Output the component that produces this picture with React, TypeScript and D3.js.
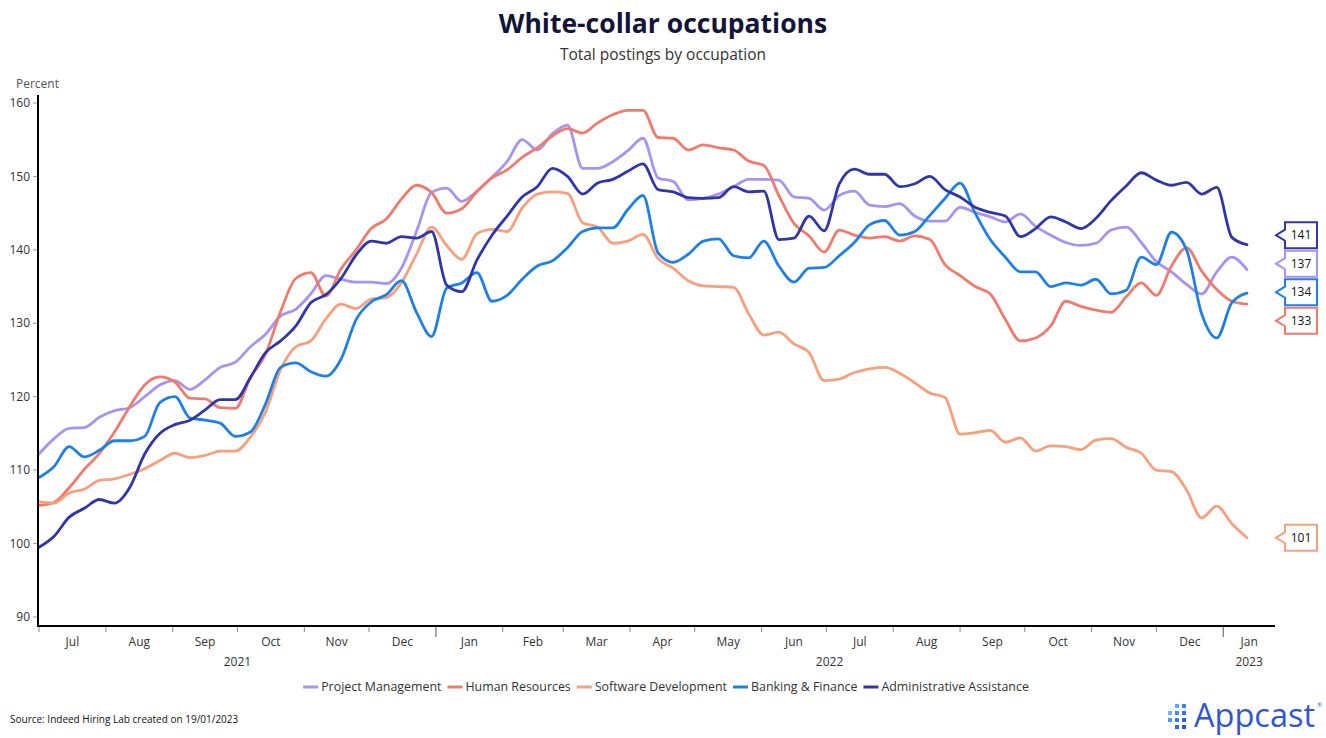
import React, { useEffect, useMemo } from 'react';
import * as d3 from 'd3';

const WIDTH = 1326;
const HEIGHT = 738;
const FONT = '"Segoe UI", "Open Sans", "Noto Sans", sans-serif';

// weekly observations, first one on 1 Jul 2021
const START = new Date(2021, 6, 1);
const AXIS_END = new Date(2023, 0, 25);

const SERIES_NAMES = [
  'Project Management',
  'Human Resources',
  'Software Development',
  'Banking & Finance',
  'Administrative Assistance',
];
const SERIES_COLORS = ['#a793f0', '#f07b6d', '#f7a07e', '#1e80e6', '#2f36a9'];

const PROJECT_MANAGEMENT = [
  112.2, 114.3, 115.7, 115.8, 117.2, 118.1, 118.5, 120.0, 121.6, 122.2,
  121.0, 122.3, 124.0, 124.7, 126.8, 128.5, 131.0, 131.9, 134.0, 136.5,
  136.0, 135.6, 135.6, 135.4, 137.5, 142.5, 147.8, 148.4, 146.6, 148.0,
  149.9, 152.0, 155.0, 153.6, 155.8, 157.0, 151.1, 151.1, 152.0, 153.5,
  155.2, 149.8, 149.3, 146.8, 147.0, 147.6, 148.6, 149.6, 149.6, 149.5,
  147.2, 147.0, 145.4, 147.4, 148.0, 146.1, 145.9, 146.3, 144.6, 143.9,
  143.9, 145.8, 145.1, 144.5, 143.8, 144.9, 143.2, 142.0, 141.0, 140.6,
  140.9, 142.7, 143.1, 141.0, 138.4, 137.0, 135.3, 134.0, 137.0, 139.0,
  137.3,
];
const HUMAN_RESOURCES = [
  105.2, 105.6, 107.6, 110.1, 112.3, 115.2, 118.6, 121.6, 122.7, 122.0,
  119.8, 119.7, 118.5, 118.4, 122.6, 125.8, 131.6, 136.1, 136.9, 133.7,
  137.4, 140.0, 142.9, 144.2, 146.9, 148.8, 147.8, 145.0, 145.6, 147.9,
  149.8, 150.9, 152.6, 153.9, 155.5, 156.5, 155.9, 157.3, 158.4, 159.0,
  159.0, 155.3, 155.2, 153.6, 154.3, 153.9, 153.6, 152.1, 151.5, 147.4,
  143.6, 141.9, 139.7, 142.7, 142.0, 141.6, 141.8, 141.2, 141.9, 141.4,
  138.0, 136.5, 135.0, 134.0, 130.5, 127.6, 128.0, 129.6, 133.0, 132.3,
  131.8, 131.5, 133.6, 135.5, 133.8, 137.8, 140.3, 137.1, 134.6, 133.0,
  132.6,
];
const SOFTWARE_DEVELOPMENT = [
  105.7, 105.5, 106.9, 107.4, 108.6, 108.8, 109.4, 110.2, 111.3, 112.3,
  111.7, 112.0, 112.6, 112.6, 114.5, 117.9, 123.7, 126.8, 127.6, 130.6,
  132.6, 132.0, 133.3, 133.5, 135.5, 139.4, 143.1, 140.6, 138.7, 142.2,
  142.8, 142.5, 145.7, 147.6, 147.9, 147.7, 143.7, 143.1, 140.9, 141.2,
  142.1, 138.8, 137.5, 135.8, 135.1, 135.0, 134.9, 131.3, 128.4, 128.8,
  127.2, 126.0, 122.2, 122.4, 123.3, 123.8, 124.0, 123.2, 121.9, 120.5,
  119.9, 114.9, 115.1, 115.4, 113.8, 114.4, 112.6, 113.3, 113.2, 112.8,
  114.1, 114.3, 113.1, 112.3, 110.0, 109.8, 107.3, 103.5, 105.1, 102.7,
  100.8,
];
const BANKING_FINANCE = [
  109.0, 110.5, 113.2, 111.8, 112.7, 114.0, 114.0, 114.6, 119.2, 120.0,
  117.1, 116.8, 116.4, 114.6, 115.2, 119.0, 124.0, 124.6, 123.4, 122.8,
  125.1, 130.5, 132.9, 133.9, 135.8, 131.5, 128.2, 134.8, 135.5, 136.9,
  133.0, 133.8, 136.0, 137.8, 138.5, 140.3, 142.5, 143.0, 143.0, 145.5,
  147.4, 139.6, 138.3, 139.4, 141.2, 141.5, 139.2, 138.9, 141.2, 137.8,
  135.6, 137.5, 137.6, 139.2, 141.0, 143.4, 144.0, 142.0, 142.5, 144.7,
  147.0, 149.1, 145.0, 141.4, 139.0, 137.0, 137.0, 135.0, 135.5, 135.2,
  136.0, 134.0, 134.5, 139.0, 138.0, 142.4, 140.0, 131.3, 128.0, 132.8,
  134.1,
];
const ADMINISTRATIVE_ASSISTANCE = [
  99.5, 101.0, 103.6, 104.8, 106.0, 105.5, 107.6, 112.2, 115.0, 116.2,
  116.8, 118.2, 119.6, 119.6, 122.6, 126.0, 127.6, 129.6, 132.8, 133.9,
  136.1, 139.3, 141.2, 140.9, 141.8, 141.6, 142.5, 135.2, 134.3, 138.6,
  142.0, 144.6, 147.2, 148.6, 151.1, 150.0, 147.6, 149.1, 149.6, 150.7,
  151.7, 148.2, 147.9, 147.1, 147.0, 147.1, 148.6, 147.9, 148.0, 141.4,
  141.6, 144.6, 142.6, 149.0, 151.0, 150.3, 150.3, 148.6, 149.0, 150.0,
  148.2, 147.2, 145.8, 145.1, 144.6, 141.8, 142.9, 144.5, 143.8, 142.9,
  144.3, 146.7, 148.7, 150.5, 149.5, 148.8, 149.2, 147.6, 148.5, 141.7,
  140.7,
];

const SERIES_VALUES = [
  PROJECT_MANAGEMENT,
  HUMAN_RESOURCES,
  SOFTWARE_DEVELOPMENT,
  BANKING_FINANCE,
  ADMINISTRATIVE_ASSISTANCE,
];

const Y_TICKS = [90, 100, 110, 120, 130, 140, 150, 160];
const MONTH_LABELS = [
  'Jul', 'Aug', 'Sep', 'Oct', 'Nov', 'Dec',
  'Jan', 'Feb', 'Mar', 'Apr', 'May', 'Jun', 'Jul', 'Aug', 'Sep', 'Oct', 'Nov', 'Dec',
  'Jan',
];
const YEAR_LABELS = ['2021', '2022', '2023'];

function measure(text: string, size: number, weight = 'normal') {
  const ctx = document.createElement('canvas').getContext('2d');
  if (!ctx) return text.length * size * 0.5;
  ctx.font = `${weight} ${size}px ${FONT}`;
  return ctx.measureText(text).width;
}

interface Callout {
  i: number;
  value: number;
  target: number;
}

// pushes end labels apart: overlapping neighbours are merged into a block
// that is centred on the mean of its targets
function spreadCallouts(items: Callout[], gap: number) {
  const sorted = [...items].sort((a, b) => a.target - b.target);
  let blocks = sorted.map((c) => ({ items: [c], top: c.target }));
  let merged = true;
  while (merged) {
    merged = false;
    for (let k = 1; k < blocks.length; k++) {
      const prev = blocks[k - 1];
      const cur = blocks[k];
      if (cur.top < prev.top + prev.items.length * gap) {
        const all = prev.items.concat(cur.items);
        const mean = d3.mean(all, (c) => c.target) as number;
        const block = { items: all, top: mean - ((all.length - 1) * gap) / 2 };
        blocks = blocks.slice(0, k - 1).concat([block], blocks.slice(k + 1));
        merged = true;
        break;
      }
    }
  }
  const out: (Callout & { pos: number })[] = [];
  blocks.forEach((b) => b.items.forEach((c, k) => out.push({ ...c, pos: b.top + k * gap })));
  return out;
}

export default function App() {
  useEffect(() => {
    document.body.style.margin = '0';
  }, []);

  const dates = useMemo(
    () => PROJECT_MANAGEMENT.map((_, i) => d3.timeDay.offset(START, i * 7)),
    []
  );

  const x = d3.scaleTime().domain([START, AXIS_END]).range([39, 1275]);
  const y = d3.scaleLinear().domain([90, 160]).range([617, 103]);

  const line = d3
    .line<number>()
    .x((_, i) => x(dates[i]))
    .y((d) => y(d))
    .curve(d3.curveMonotoneX);

  const months = d3.timeMonth.range(START, AXIS_END);
  const years = [START, new Date(2022, 0, 1), new Date(2023, 0, 1)];

  const callouts = spreadCallouts(
    SERIES_VALUES.map((vals, i) => ({
      i,
      value: vals[vals.length - 1],
      target: y(vals[vals.length - 1]),
    })),
    28.5
  );

  // legend layout
  const legendSize = 12.4;
  const swatch = 15;
  const legendItems = SERIES_NAMES.map((name) => ({ name, w: swatch + 3 + measure(name, legendSize) }));
  const legendGap = 6;
  const legendTotal = d3.sum(legendItems, (d) => d.w) + legendGap * (legendItems.length - 1);
  let lx = 666 - legendTotal / 2;
  const legendPos = legendItems.map((d) => {
    const p = lx;
    lx += d.w + legendGap;
    return p;
  });

  const logoDots: [number, number, string][] = [
    [0, 9, '#6fb6ff'], [0, 16, '#4a9cf5'],
    [7, 2, '#5aa8ff'], [7, 9, '#3d8df0'], [7, 16, '#2f7ee8'], [7, 23, '#2a6fe0'],
    [14, 2, '#3a85ee'], [14, 9, '#2e74e4'], [14, 16, '#2a62d8'], [14, 23, '#2755d0'],
  ];

  return (
    <svg width={WIDTH} height={HEIGHT} style={{ display: 'block', background: '#fff' }} fontFamily={FONT}>
      <text x={663} y={33} textAnchor="middle" fontSize={26.5} fontWeight={700} fill="#14143a">
        White-collar occupations
      </text>
      <text x={663} y={60} textAnchor="middle" fontSize={15.5} fill="#333">
        Total postings by occupation
      </text>
      <text x={16} y={88} fontSize={12} fill="#555">
        Percent
      </text>

      {/* y axis */}
      {Y_TICKS.map((t) => (
        <g key={t}>
          <line x1={33} x2={37} y1={y(t)} y2={y(t)} stroke="#999" />
          <text x={30} y={y(t)} dy="0.35em" textAnchor="end" fontSize={12} fill="#333">
            {t}
          </text>
        </g>
      ))}

      {/* lines */}
      {SERIES_VALUES.map((vals, i) => (
        <path
          key={SERIES_NAMES[i]}
          d={line(vals) || ''}
          fill="none"
          stroke={SERIES_COLORS[i]}
          strokeWidth={2.8}
          strokeLinejoin="round"
          strokeLinecap="round"
        />
      ))}

      <line x1={38} x2={38} y1={95} y2={627} stroke="#000" strokeWidth={2} />
      <line x1={37} x2={1275} y1={626} y2={626} stroke="#000" strokeWidth={2} />

      {/* x axis */}
      {months.map((m, i) => {
        const isYear = m.getMonth() === 0;
        const next = d3.timeMonth.offset(m, 1);
        const mid = (x(m) + x(next < AXIS_END ? next : AXIS_END)) / 2;
        return (
          <g key={m.toISOString()}>
            <line x1={x(m)} x2={x(m)} y1={627} y2={isYear ? 637 : 632} stroke={isYear ? '#555' : '#888'} />
            <text x={mid} y={646} textAnchor="middle" fontSize={12} fill="#333">
              {MONTH_LABELS[i]}
            </text>
          </g>
        );
      })}
      {years.map((yr, i) => {
        const nextYear = i < years.length - 1 ? years[i + 1] : AXIS_END;
        const mid = (x(yr) + x(nextYear)) / 2;
        return (
          <text key={YEAR_LABELS[i]} x={mid} y={666} textAnchor="middle" fontSize={12} fill="#333">
            {YEAR_LABELS[i]}
          </text>
        );
      })}

      {/* callouts */}
      {callouts.map((c) => {
        const yy = c.pos;
        const d = `M1285,${yy - 13} H1317 V${yy + 13} H1285 V${yy + 5.5} L1276,${yy} L1285,${yy - 5.5} Z`;
        return (
          <g key={c.i}>
            <path d={d} fill="#fff" stroke={SERIES_COLORS[c.i]} strokeWidth={2} />
            <text x={1301} y={yy} dy="0.35em" textAnchor="middle" fontSize={12} fill="#111">
              {Math.round(c.value)}
            </text>
          </g>
        );
      })}

      {/* legend */}
      {legendItems.map((d, i) => (
        <g key={d.name} transform={`translate(${legendPos[i]},687)`}>
          <line x1={0} x2={swatch} y1={0} y2={0} stroke={SERIES_COLORS[i]} strokeWidth={3} />
          <text x={swatch + 3} y={0} dy="0.35em" fontSize={legendSize} fill="#333">
            {d.name}
          </text>
        </g>
      ))}

      <text x={10} y={723} fontSize={10} fill="#111">
        Source: Indeed Hiring Lab created on 19/01/2023
      </text>

      {/* Appcast logo */}
      <g transform="translate(1168,702)">
        {logoDots.map(([dx, dy, c], i) => (
          <rect key={i} x={dx} y={dy} width={4} height={4} fill={c} />
        ))}
      </g>
      <text x={1194} y={727} fontSize={32.5} fill="#2f57d4">
        Appcast
      </text>
      <text x={1317} y={707} fontSize={6} fill="#2f57d4">
        ®
      </text>
    </svg>
  );
}
